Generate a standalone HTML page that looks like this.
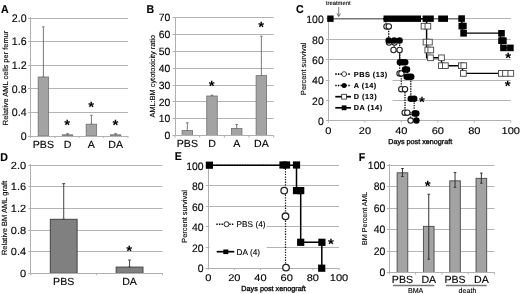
<!DOCTYPE html>
<html><head><meta charset="utf-8"><style>
html,body{margin:0;padding:0;background:#fff;width:520px;height:294px;overflow:hidden;}
svg{display:block;font-family:"Liberation Sans", sans-serif;filter:blur(0.35px);}
text{stroke:#000;stroke-width:0.12px;}
</style></head><body>
<svg xmlns="http://www.w3.org/2000/svg" width="520" height="294" viewBox="0 0 520 294" font-family='"Liberation Sans", sans-serif' text-rendering="geometricPrecision">
<rect width="520" height="294" fill="#fff"/>
<line x1="28.00" y1="112.50" x2="128.00" y2="112.50" stroke="#b4b4b4" stroke-width="1" />
<line x1="28.00" y1="88.50" x2="128.00" y2="88.50" stroke="#b4b4b4" stroke-width="1" />
<line x1="28.00" y1="65.50" x2="128.00" y2="65.50" stroke="#b4b4b4" stroke-width="1" />
<line x1="28.00" y1="41.50" x2="128.00" y2="41.50" stroke="#b4b4b4" stroke-width="1" />
<line x1="28.00" y1="18.50" x2="128.00" y2="18.50" stroke="#b4b4b4" stroke-width="1" />
<text transform="translate(26.70,139.89) scale(0.97,1)" font-size="11.0" text-anchor="end" font-weight="normal" fill="#000" >0</text>
<text transform="translate(26.70,116.29) scale(0.97,1)" font-size="11.0" text-anchor="end" font-weight="normal" fill="#000" >0.4</text>
<text transform="translate(26.70,92.69) scale(0.97,1)" font-size="11.0" text-anchor="end" font-weight="normal" fill="#000" >0.8</text>
<text transform="translate(26.70,69.09) scale(0.97,1)" font-size="11.0" text-anchor="end" font-weight="normal" fill="#000" >1.2</text>
<text transform="translate(26.70,45.49) scale(0.97,1)" font-size="11.0" text-anchor="end" font-weight="normal" fill="#000" >1.6</text>
<text transform="translate(26.70,21.89) scale(0.97,1)" font-size="11.0" text-anchor="end" font-weight="normal" fill="#000" >2.0</text>
<line x1="43.40" y1="26.85" x2="43.40" y2="77.00" stroke="#6a6a6a" stroke-width="0.9" />
<line x1="42.15" y1="26.85" x2="44.65" y2="26.85" stroke="#6a6a6a" stroke-width="0.9" />
<line x1="42.15" y1="77.00" x2="44.65" y2="77.00" stroke="#6a6a6a" stroke-width="0.9" />
<rect x="38.15" y="77.00" width="10.50" height="59.00" fill="#a3a3a3" stroke="#707070" stroke-width="0.8" />
<line x1="67.50" y1="133.64" x2="67.50" y2="134.82" stroke="#6a6a6a" stroke-width="0.9" />
<line x1="66.25" y1="133.64" x2="68.75" y2="133.64" stroke="#6a6a6a" stroke-width="0.9" />
<line x1="66.25" y1="134.82" x2="68.75" y2="134.82" stroke="#6a6a6a" stroke-width="0.9" />
<rect x="62.25" y="134.82" width="10.50" height="1.18" fill="#a3a3a3" stroke="#707070" stroke-width="0.8" />
<line x1="91.40" y1="115.35" x2="91.40" y2="124.20" stroke="#6a6a6a" stroke-width="0.9" />
<line x1="90.15" y1="115.35" x2="92.65" y2="115.35" stroke="#6a6a6a" stroke-width="0.9" />
<line x1="90.15" y1="124.20" x2="92.65" y2="124.20" stroke="#6a6a6a" stroke-width="0.9" />
<rect x="86.15" y="124.20" width="10.50" height="11.80" fill="#a3a3a3" stroke="#707070" stroke-width="0.8" />
<line x1="115.60" y1="133.64" x2="115.60" y2="134.82" stroke="#6a6a6a" stroke-width="0.9" />
<line x1="114.35" y1="133.64" x2="116.85" y2="133.64" stroke="#6a6a6a" stroke-width="0.9" />
<line x1="114.35" y1="134.82" x2="116.85" y2="134.82" stroke="#6a6a6a" stroke-width="0.9" />
<rect x="110.35" y="134.82" width="10.50" height="1.18" fill="#a3a3a3" stroke="#707070" stroke-width="0.8" />
<line x1="30.50" y1="17.00" x2="30.50" y2="136.00" stroke="#b0b0b0" stroke-width="1" />
<line x1="28.00" y1="136.50" x2="128.00" y2="136.50" stroke="#b0b0b0" stroke-width="1" />
<line x1="30.50" y1="136.00" x2="30.50" y2="138.00" stroke="#b0b0b0" stroke-width="1" />
<line x1="54.88" y1="136.00" x2="54.88" y2="138.00" stroke="#b0b0b0" stroke-width="1" />
<line x1="79.25" y1="136.00" x2="79.25" y2="138.00" stroke="#b0b0b0" stroke-width="1" />
<line x1="103.62" y1="136.00" x2="103.62" y2="138.00" stroke="#b0b0b0" stroke-width="1" />
<line x1="128.00" y1="136.00" x2="128.00" y2="138.00" stroke="#b0b0b0" stroke-width="1" />
<text transform="translate(43.40,147.50) scale(1.03,1)" font-size="10.3" text-anchor="middle" font-weight="normal" fill="#000" >PBS</text>
<text transform="translate(67.50,147.50) scale(1.03,1)" font-size="10.3" text-anchor="middle" font-weight="normal" fill="#000" >D</text>
<text transform="translate(91.40,147.50) scale(1.03,1)" font-size="10.3" text-anchor="middle" font-weight="normal" fill="#000" >A</text>
<text transform="translate(115.60,147.50) scale(1.03,1)" font-size="10.3" text-anchor="middle" font-weight="normal" fill="#000" >DA</text>
<text x="67.20" y="129.95" font-size="15" text-anchor="middle" font-weight="bold" fill="#000" style="stroke:none">*</text>
<text x="91.10" y="111.85" font-size="15" text-anchor="middle" font-weight="bold" fill="#000" style="stroke:none">*</text>
<text x="115.30" y="129.95" font-size="15" text-anchor="middle" font-weight="bold" fill="#000" style="stroke:none">*</text>
<text transform="translate(1.00,12.60) scale(0.93,1)" font-size="11.4" text-anchor="start" font-weight="bold" fill="#000" >A</text>
<text x="0" y="0" font-size="7.45" text-anchor="middle" transform="translate(5.60,78.00) rotate(-90)" dominant-baseline="central">Relative AML cells per femur</text>
<line x1="172.50" y1="118.50" x2="273.70" y2="118.50" stroke="#b4b4b4" stroke-width="1" />
<line x1="172.50" y1="101.50" x2="273.70" y2="101.50" stroke="#b4b4b4" stroke-width="1" />
<line x1="172.50" y1="85.50" x2="273.70" y2="85.50" stroke="#b4b4b4" stroke-width="1" />
<line x1="172.50" y1="68.50" x2="273.70" y2="68.50" stroke="#b4b4b4" stroke-width="1" />
<line x1="172.50" y1="51.50" x2="273.70" y2="51.50" stroke="#b4b4b4" stroke-width="1" />
<line x1="172.50" y1="34.50" x2="273.70" y2="34.50" stroke="#b4b4b4" stroke-width="1" />
<line x1="172.50" y1="17.50" x2="273.70" y2="17.50" stroke="#b4b4b4" stroke-width="1" />
<text transform="translate(170.30,139.32) scale(0.99,1)" font-size="10.5" text-anchor="end" font-weight="normal" fill="#000" >0</text>
<text transform="translate(170.30,122.47) scale(0.99,1)" font-size="10.5" text-anchor="end" font-weight="normal" fill="#000" >10</text>
<text transform="translate(170.30,105.62) scale(0.99,1)" font-size="10.5" text-anchor="end" font-weight="normal" fill="#000" >20</text>
<text transform="translate(170.30,88.77) scale(0.99,1)" font-size="10.5" text-anchor="end" font-weight="normal" fill="#000" >30</text>
<text transform="translate(170.30,71.92) scale(0.99,1)" font-size="10.5" text-anchor="end" font-weight="normal" fill="#000" >40</text>
<text transform="translate(170.30,55.07) scale(0.99,1)" font-size="10.5" text-anchor="end" font-weight="normal" fill="#000" >50</text>
<text transform="translate(170.30,38.22) scale(0.99,1)" font-size="10.5" text-anchor="end" font-weight="normal" fill="#000" >60</text>
<text transform="translate(170.30,21.37) scale(0.99,1)" font-size="10.5" text-anchor="end" font-weight="normal" fill="#000" >70</text>
<line x1="187.34" y1="122.79" x2="187.34" y2="130.54" stroke="#6a6a6a" stroke-width="0.9" />
<line x1="186.09" y1="122.79" x2="188.59" y2="122.79" stroke="#6a6a6a" stroke-width="0.9" />
<line x1="186.09" y1="130.54" x2="188.59" y2="130.54" stroke="#6a6a6a" stroke-width="0.9" />
<rect x="182.09" y="130.54" width="10.50" height="5.06" fill="#a3a3a3" stroke="#707070" stroke-width="0.8" />
<line x1="212.01" y1="95.16" x2="212.01" y2="96.00" stroke="#6a6a6a" stroke-width="0.9" />
<line x1="210.76" y1="95.16" x2="213.26" y2="95.16" stroke="#6a6a6a" stroke-width="0.9" />
<line x1="210.76" y1="96.00" x2="213.26" y2="96.00" stroke="#6a6a6a" stroke-width="0.9" />
<rect x="206.76" y="96.00" width="10.50" height="39.60" fill="#a3a3a3" stroke="#707070" stroke-width="0.8" />
<line x1="236.69" y1="124.48" x2="236.69" y2="128.52" stroke="#6a6a6a" stroke-width="0.9" />
<line x1="235.44" y1="124.48" x2="237.94" y2="124.48" stroke="#6a6a6a" stroke-width="0.9" />
<line x1="235.44" y1="128.52" x2="237.94" y2="128.52" stroke="#6a6a6a" stroke-width="0.9" />
<rect x="231.44" y="128.52" width="10.50" height="7.08" fill="#a3a3a3" stroke="#707070" stroke-width="0.8" />
<line x1="261.36" y1="36.18" x2="261.36" y2="75.61" stroke="#6a6a6a" stroke-width="0.9" />
<line x1="260.11" y1="36.18" x2="262.61" y2="36.18" stroke="#6a6a6a" stroke-width="0.9" />
<line x1="260.11" y1="75.61" x2="262.61" y2="75.61" stroke="#6a6a6a" stroke-width="0.9" />
<rect x="256.11" y="75.61" width="10.50" height="59.99" fill="#a3a3a3" stroke="#707070" stroke-width="0.8" />
<line x1="175.50" y1="17.00" x2="175.50" y2="135.60" stroke="#b0b0b0" stroke-width="1" />
<line x1="172.50" y1="135.50" x2="273.70" y2="135.50" stroke="#b0b0b0" stroke-width="1" />
<line x1="175.00" y1="135.60" x2="175.00" y2="137.60" stroke="#b0b0b0" stroke-width="1" />
<line x1="199.68" y1="135.60" x2="199.68" y2="137.60" stroke="#b0b0b0" stroke-width="1" />
<line x1="224.35" y1="135.60" x2="224.35" y2="137.60" stroke="#b0b0b0" stroke-width="1" />
<line x1="249.02" y1="135.60" x2="249.02" y2="137.60" stroke="#b0b0b0" stroke-width="1" />
<line x1="273.70" y1="135.60" x2="273.70" y2="137.60" stroke="#b0b0b0" stroke-width="1" />
<text transform="translate(187.34,146.50) scale(1.03,1)" font-size="10.3" text-anchor="middle" font-weight="normal" fill="#000" >PBS</text>
<text transform="translate(212.01,146.50) scale(1.03,1)" font-size="10.3" text-anchor="middle" font-weight="normal" fill="#000" >D</text>
<text transform="translate(236.69,146.50) scale(1.03,1)" font-size="10.3" text-anchor="middle" font-weight="normal" fill="#000" >A</text>
<text transform="translate(261.36,146.50) scale(1.03,1)" font-size="10.3" text-anchor="middle" font-weight="normal" fill="#000" >DA</text>
<text x="211.71" y="90.55" font-size="15" text-anchor="middle" font-weight="bold" fill="#000" style="stroke:none">*</text>
<text x="261.06" y="32.25" font-size="15" text-anchor="middle" font-weight="bold" fill="#000" style="stroke:none">*</text>
<text transform="translate(146.60,12.90) scale(0.93,1)" font-size="11.4" text-anchor="start" font-weight="bold" fill="#000" >B</text>
<text x="0" y="0" font-size="7.37" text-anchor="middle" transform="translate(152.40,76.20) rotate(-90)" dominant-baseline="central">AML:BM cytotoxicity ratio</text>
<line x1="325.90" y1="100.50" x2="510.80" y2="100.50" stroke="#b4b4b4" stroke-width="1" />
<line x1="325.90" y1="80.50" x2="510.80" y2="80.50" stroke="#b4b4b4" stroke-width="1" />
<line x1="325.90" y1="59.50" x2="510.80" y2="59.50" stroke="#b4b4b4" stroke-width="1" />
<line x1="325.90" y1="39.50" x2="510.80" y2="39.50" stroke="#b4b4b4" stroke-width="1" />
<line x1="325.90" y1="18.50" x2="510.80" y2="18.50" stroke="#b4b4b4" stroke-width="1" />
<text transform="translate(323.80,125.05) scale(0.99,1)" font-size="10.6" text-anchor="end" font-weight="normal" fill="#000" >0</text>
<text transform="translate(323.80,104.70) scale(0.99,1)" font-size="10.6" text-anchor="end" font-weight="normal" fill="#000" >20</text>
<text transform="translate(323.80,84.35) scale(0.99,1)" font-size="10.6" text-anchor="end" font-weight="normal" fill="#000" >40</text>
<text transform="translate(323.80,64.00) scale(0.99,1)" font-size="10.6" text-anchor="end" font-weight="normal" fill="#000" >60</text>
<text transform="translate(323.80,43.65) scale(0.99,1)" font-size="10.6" text-anchor="end" font-weight="normal" fill="#000" >80</text>
<text transform="translate(323.80,23.30) scale(0.99,1)" font-size="10.6" text-anchor="end" font-weight="normal" fill="#000" >100</text>
<line x1="328.50" y1="17.95" x2="328.50" y2="120.70" stroke="#b0b0b0" stroke-width="1" />
<line x1="325.90" y1="120.50" x2="510.80" y2="120.50" stroke="#b0b0b0" stroke-width="1" />
<line x1="328.40" y1="120.70" x2="328.40" y2="122.70" stroke="#b0b0b0" stroke-width="1" />
<text transform="translate(328.40,134.40) scale(1.14,1)" font-size="9.7" text-anchor="middle" font-weight="normal" fill="#000" >0</text>
<line x1="364.88" y1="120.70" x2="364.88" y2="122.70" stroke="#b0b0b0" stroke-width="1" />
<text transform="translate(364.88,134.40) scale(1.14,1)" font-size="9.7" text-anchor="middle" font-weight="normal" fill="#000" >20</text>
<line x1="401.36" y1="120.70" x2="401.36" y2="122.70" stroke="#b0b0b0" stroke-width="1" />
<text transform="translate(401.36,134.40) scale(1.14,1)" font-size="9.7" text-anchor="middle" font-weight="normal" fill="#000" >40</text>
<line x1="437.84" y1="120.70" x2="437.84" y2="122.70" stroke="#b0b0b0" stroke-width="1" />
<text transform="translate(437.84,134.40) scale(1.14,1)" font-size="9.7" text-anchor="middle" font-weight="normal" fill="#000" >60</text>
<line x1="474.32" y1="120.70" x2="474.32" y2="122.70" stroke="#b0b0b0" stroke-width="1" />
<text transform="translate(474.32,134.40) scale(1.14,1)" font-size="9.7" text-anchor="middle" font-weight="normal" fill="#000" >80</text>
<line x1="510.80" y1="120.70" x2="510.80" y2="122.70" stroke="#b0b0b0" stroke-width="1" />
<text transform="translate(510.80,134.40) scale(1.14,1)" font-size="9.7" text-anchor="middle" font-weight="normal" fill="#000" >100</text>
<text x="420.20" y="144.40" font-size="7.2" text-anchor="middle" font-weight="normal" fill="#000" style="stroke-width:0.3px">Days post xenograft</text>
<text transform="translate(295.90,13.40) scale(0.93,1)" font-size="11.4" text-anchor="start" font-weight="bold" fill="#000" >C</text>
<text x="0" y="0" font-size="7.37" text-anchor="middle" transform="translate(303.80,68.75) rotate(-90)" dominant-baseline="central">Percent survival</text>
<text x="338.20" y="5.00" font-size="5.85" text-anchor="middle" font-weight="normal" fill="#000" >treatment</text>
<line x1="338.70" y1="7.00" x2="338.70" y2="16.20" stroke="#444" stroke-width="0.7" />
<path d="M337.0,13.4 L338.7,16.6 L340.4,13.4" fill="none" stroke="#444" stroke-width="0.7"/>
<rect x="329.50" y="63.00" width="63.00" height="51.00" fill="#fff" stroke="none" stroke-width="1" />
<line x1="328.40" y1="18.70" x2="461.60" y2="18.70" stroke="#777" stroke-width="1.4" />
<path d="M461.6,18.7 L462.6,33.1 L500,33.1 L501.5,47.9 L511,47.9" fill="none" stroke="#000" stroke-width="1.4"/>
<path d="M383,18.7 L426.6,18.7 L426.6,57.8 L441.5,57.8 L441.5,65.7 L462.5,65.7 L462.5,73.4 L506,73.4" fill="none" stroke="#000" stroke-width="1.4"/>
<path d="M385.8,18.7 L385.8,26.4 L388.7,26.4 L388.7,42.1 L394.2,42.1 L394.2,50.0 L399.6,50.0 L399.6,73.4 L401.3,73.4 L401.3,89.2 L405.0,89.2 L405.0,112.7 L410.6,112.7 L410.6,120.6" fill="none" stroke="#111" stroke-width="1.3" stroke-dasharray="1.4,1.1"/>
<path d="M388.7,40.4 L399.6,40.4 L399.6,62.3 L405.0,62.3 L405.0,69.6 L407.5,69.6 L407.5,76.8 L410.8,76.8 L410.8,98.7 L414.2,98.7 L414.2,113.4 L416.4,113.4 L416.4,120.6" fill="none" stroke="#111" stroke-width="1.3" stroke-dasharray="1.4,1.1"/>
<line x1="399.60" y1="53.00" x2="399.60" y2="60.00" stroke="#222" stroke-width="1.1" />
<rect x="327.20" y="15.50" width="6.40" height="6.40" fill="#000" stroke="none" stroke-width="1" />
<rect x="383.50" y="15.50" width="37.50" height="6.40" fill="#000" stroke="none" stroke-width="1" />
<rect x="422.60" y="15.50" width="11.20" height="6.40" fill="#000" stroke="none" stroke-width="1" />
<rect x="438.20" y="15.50" width="9.80" height="6.40" fill="#000" stroke="none" stroke-width="1" />
<rect x="458.30" y="15.30" width="6.60" height="6.60" fill="#000" stroke="none" stroke-width="1" />
<rect x="458.50" y="22.80" width="6.60" height="6.60" fill="#000" stroke="none" stroke-width="1" />
<rect x="460.10" y="22.80" width="6.60" height="6.60" fill="#000" stroke="none" stroke-width="1" />
<rect x="460.30" y="30.00" width="6.60" height="6.60" fill="#000" stroke="none" stroke-width="1" />
<rect x="498.20" y="30.00" width="6.60" height="6.60" fill="#000" stroke="none" stroke-width="1" />
<rect x="498.20" y="37.40" width="6.60" height="6.60" fill="#000" stroke="none" stroke-width="1" />
<rect x="500.10" y="37.40" width="6.60" height="6.60" fill="#000" stroke="none" stroke-width="1" />
<rect x="500.20" y="44.60" width="6.60" height="6.60" fill="#000" stroke="none" stroke-width="1" />
<rect x="507.10" y="44.60" width="6.60" height="6.60" fill="#000" stroke="none" stroke-width="1" />
<rect x="421.15" y="23.35" width="5.70" height="5.70" fill="#fff" stroke="#444" stroke-width="0.9" />
<rect x="425.05" y="23.35" width="5.70" height="5.70" fill="#fff" stroke="#444" stroke-width="0.9" />
<rect x="423.15" y="39.25" width="5.70" height="5.70" fill="#fff" stroke="#444" stroke-width="0.9" />
<rect x="426.55" y="39.25" width="5.70" height="5.70" fill="#fff" stroke="#444" stroke-width="0.9" />
<rect x="424.95" y="47.15" width="5.70" height="5.70" fill="#fff" stroke="#444" stroke-width="0.9" />
<rect x="427.95" y="47.15" width="5.70" height="5.70" fill="#fff" stroke="#444" stroke-width="0.9" />
<rect x="427.65" y="54.95" width="5.70" height="5.70" fill="#fff" stroke="#444" stroke-width="0.9" />
<rect x="438.65" y="54.95" width="5.70" height="5.70" fill="#fff" stroke="#444" stroke-width="0.9" />
<rect x="438.45" y="62.85" width="5.70" height="5.70" fill="#fff" stroke="#444" stroke-width="0.9" />
<rect x="442.55" y="62.85" width="5.70" height="5.70" fill="#fff" stroke="#444" stroke-width="0.9" />
<rect x="458.55" y="62.85" width="5.70" height="5.70" fill="#fff" stroke="#444" stroke-width="0.9" />
<rect x="460.95" y="62.85" width="5.70" height="5.70" fill="#fff" stroke="#444" stroke-width="0.9" />
<rect x="460.55" y="70.55" width="5.70" height="5.70" fill="#fff" stroke="#444" stroke-width="0.9" />
<rect x="498.55" y="70.55" width="5.70" height="5.70" fill="#fff" stroke="#444" stroke-width="0.9" />
<rect x="502.65" y="70.55" width="5.70" height="5.70" fill="#fff" stroke="#444" stroke-width="0.9" />
<rect x="507.95" y="70.55" width="5.70" height="5.70" fill="#fff" stroke="#444" stroke-width="0.9" />
<circle cx="386.5" cy="26.4" r="2.7" fill="#fff" stroke="#222" stroke-width="1.1"/>
<circle cx="388.8" cy="26.4" r="2.7" fill="#fff" stroke="#222" stroke-width="1.1"/>
<circle cx="389" cy="42.6" r="2.7" fill="#fff" stroke="#222" stroke-width="1.1"/>
<circle cx="394.5" cy="42.6" r="2.7" fill="#fff" stroke="#222" stroke-width="1.1"/>
<circle cx="393.5" cy="50.0" r="2.7" fill="#fff" stroke="#222" stroke-width="1.1"/>
<circle cx="399.6" cy="50.0" r="2.7" fill="#fff" stroke="#222" stroke-width="1.1"/>
<circle cx="399.6" cy="73.4" r="2.7" fill="#fff" stroke="#222" stroke-width="1.1"/>
<circle cx="401.4" cy="73.4" r="2.7" fill="#fff" stroke="#222" stroke-width="1.1"/>
<circle cx="401.3" cy="89.2" r="2.7" fill="#fff" stroke="#222" stroke-width="1.1"/>
<circle cx="405.0" cy="89.2" r="2.7" fill="#fff" stroke="#222" stroke-width="1.1"/>
<circle cx="404.7" cy="112.7" r="2.7" fill="#fff" stroke="#222" stroke-width="1.1"/>
<circle cx="407.3" cy="112.7" r="2.7" fill="#fff" stroke="#222" stroke-width="1.1"/>
<circle cx="410.6" cy="120.6" r="2.7" fill="#fff" stroke="#222" stroke-width="1.1"/>
<circle cx="388.7" cy="40.6" r="3.25" fill="#000"/>
<circle cx="394.2" cy="40.6" r="3.25" fill="#000"/>
<circle cx="399.6" cy="40.6" r="3.25" fill="#000"/>
<circle cx="399.9" cy="62.3" r="3.25" fill="#000"/>
<circle cx="402.5" cy="62.3" r="3.25" fill="#000"/>
<circle cx="405.2" cy="62.3" r="3.25" fill="#000"/>
<circle cx="405.0" cy="69.6" r="3.25" fill="#000"/>
<circle cx="407.0" cy="69.6" r="3.25" fill="#000"/>
<circle cx="406.7" cy="76.8" r="3.25" fill="#000"/>
<circle cx="409.0" cy="76.8" r="3.25" fill="#000"/>
<circle cx="411.2" cy="76.8" r="3.25" fill="#000"/>
<circle cx="410.8" cy="98.7" r="3.25" fill="#000"/>
<circle cx="414.2" cy="98.7" r="3.25" fill="#000"/>
<circle cx="414.6" cy="113.4" r="3.25" fill="#000"/>
<circle cx="416.3" cy="113.4" r="3.25" fill="#000"/>
<circle cx="416.4" cy="120.6" r="3.25" fill="#000"/>
<text x="421.90" y="106.65" font-size="15" text-anchor="middle" font-weight="bold" fill="#000" style="stroke:none">*</text>
<text x="508.10" y="62.85" font-size="15" text-anchor="middle" font-weight="bold" fill="#000" style="stroke:none">*</text>
<text x="507.70" y="91.25" font-size="15" text-anchor="middle" font-weight="bold" fill="#000" style="stroke:none">*</text>
<line x1="335.30" y1="74.10" x2="351.00" y2="74.10" stroke="#000" stroke-width="1.6" stroke-dasharray="1.4,1.2"/>
<circle cx="344.1" cy="74.1" r="2.4" fill="#fff" stroke="#222" stroke-width="0.8"/>
<text x="353.80" y="76.60" font-size="7.3" text-anchor="start" font-weight="bold" fill="#000" letter-spacing="0.5">PBS (13)</text>
<line x1="335.30" y1="85.50" x2="351.00" y2="85.50" stroke="#000" stroke-width="1.6" stroke-dasharray="1.4,1.2"/>
<circle cx="344.1" cy="85.5" r="2.5" fill="#000"/>
<text x="353.80" y="88.00" font-size="7.3" text-anchor="start" font-weight="bold" fill="#000" letter-spacing="0.5">A (14)</text>
<line x1="335.30" y1="96.70" x2="351.00" y2="96.70" stroke="#000" stroke-width="1.7" />
<rect x="341.70" y="94.30" width="4.80" height="4.80" fill="#fff" stroke="#222" stroke-width="0.8" />
<text x="353.80" y="99.20" font-size="7.3" text-anchor="start" font-weight="bold" fill="#000" letter-spacing="0.5">D (13)</text>
<line x1="335.30" y1="107.80" x2="351.00" y2="107.80" stroke="#000" stroke-width="1.7" />
<rect x="341.70" y="105.40" width="4.80" height="4.80" fill="#000" stroke="none" stroke-width="1" />
<text x="353.80" y="110.30" font-size="7.3" text-anchor="start" font-weight="bold" fill="#000" letter-spacing="0.5">DA (14)</text>
<line x1="28.30" y1="251.50" x2="162.50" y2="251.50" stroke="#b4b4b4" stroke-width="1" />
<line x1="28.30" y1="230.50" x2="162.50" y2="230.50" stroke="#b4b4b4" stroke-width="1" />
<line x1="28.30" y1="208.50" x2="162.50" y2="208.50" stroke="#b4b4b4" stroke-width="1" />
<line x1="28.30" y1="186.50" x2="162.50" y2="186.50" stroke="#b4b4b4" stroke-width="1" />
<line x1="28.30" y1="165.50" x2="162.50" y2="165.50" stroke="#b4b4b4" stroke-width="1" />
<text transform="translate(26.10,276.78) scale(1.06,1)" font-size="10.4" text-anchor="end" font-weight="normal" fill="#000" >0</text>
<text transform="translate(26.10,255.18) scale(1.06,1)" font-size="10.4" text-anchor="end" font-weight="normal" fill="#000" >0.4</text>
<text transform="translate(26.10,233.58) scale(1.06,1)" font-size="10.4" text-anchor="end" font-weight="normal" fill="#000" >0.8</text>
<text transform="translate(26.10,211.98) scale(1.06,1)" font-size="10.4" text-anchor="end" font-weight="normal" fill="#000" >1.2</text>
<text transform="translate(26.10,190.38) scale(1.06,1)" font-size="10.4" text-anchor="end" font-weight="normal" fill="#000" >1.6</text>
<text transform="translate(26.10,168.78) scale(1.06,1)" font-size="10.4" text-anchor="end" font-weight="normal" fill="#000" >2.0</text>
<line x1="63.72" y1="183.66" x2="63.72" y2="219.30" stroke="#444" stroke-width="1" />
<line x1="62.22" y1="183.66" x2="65.22" y2="183.66" stroke="#444" stroke-width="1" />
<line x1="62.22" y1="219.30" x2="65.22" y2="219.30" stroke="#444" stroke-width="1" />
<rect x="50.32" y="219.30" width="26.80" height="54.00" fill="#808080" stroke="#444" stroke-width="1" />
<line x1="129.57" y1="260.07" x2="129.57" y2="267.09" stroke="#444" stroke-width="1" />
<line x1="128.07" y1="260.07" x2="131.07" y2="260.07" stroke="#444" stroke-width="1" />
<line x1="128.07" y1="267.09" x2="131.07" y2="267.09" stroke="#444" stroke-width="1" />
<rect x="116.17" y="267.09" width="26.80" height="6.21" fill="#808080" stroke="#444" stroke-width="1" />
<line x1="30.50" y1="164.00" x2="30.50" y2="273.30" stroke="#b0b0b0" stroke-width="1" />
<line x1="28.30" y1="273.50" x2="162.50" y2="273.50" stroke="#b0b0b0" stroke-width="1" />
<line x1="30.80" y1="273.30" x2="30.80" y2="275.30" stroke="#b0b0b0" stroke-width="1" />
<line x1="96.65" y1="273.30" x2="96.65" y2="275.30" stroke="#b0b0b0" stroke-width="1" />
<line x1="162.50" y1="273.30" x2="162.50" y2="275.30" stroke="#b0b0b0" stroke-width="1" />
<text transform="translate(63.72,284.50) scale(1.03,1)" font-size="10.3" text-anchor="middle" font-weight="normal" fill="#000" >PBS</text>
<text transform="translate(129.57,284.50) scale(1.03,1)" font-size="10.3" text-anchor="middle" font-weight="normal" fill="#000" >DA</text>
<text x="129.27" y="255.75" font-size="15" text-anchor="middle" font-weight="bold" fill="#000" style="stroke:none">*</text>
<text transform="translate(0.30,160.90) scale(0.93,1)" font-size="11.4" text-anchor="start" font-weight="bold" fill="#000" >D</text>
<text x="0" y="0" font-size="7.5" text-anchor="middle" transform="translate(4.80,217.90) rotate(-90)" dominant-baseline="central">Relative BM AML graft</text>
<line x1="205.70" y1="247.50" x2="339.00" y2="247.50" stroke="#b4b4b4" stroke-width="1" />
<line x1="205.70" y1="226.50" x2="339.00" y2="226.50" stroke="#b4b4b4" stroke-width="1" />
<line x1="205.70" y1="206.50" x2="339.00" y2="206.50" stroke="#b4b4b4" stroke-width="1" />
<line x1="205.70" y1="185.50" x2="339.00" y2="185.50" stroke="#b4b4b4" stroke-width="1" />
<line x1="205.70" y1="165.50" x2="339.00" y2="165.50" stroke="#b4b4b4" stroke-width="1" />
<text transform="translate(203.60,272.26) scale(0.96,1)" font-size="10.9" text-anchor="end" font-weight="normal" fill="#000" >0</text>
<text transform="translate(203.60,251.72) scale(0.96,1)" font-size="10.9" text-anchor="end" font-weight="normal" fill="#000" >20</text>
<text transform="translate(203.60,231.18) scale(0.96,1)" font-size="10.9" text-anchor="end" font-weight="normal" fill="#000" >40</text>
<text transform="translate(203.60,210.64) scale(0.96,1)" font-size="10.9" text-anchor="end" font-weight="normal" fill="#000" >60</text>
<text transform="translate(203.60,190.10) scale(0.96,1)" font-size="10.9" text-anchor="end" font-weight="normal" fill="#000" >80</text>
<text transform="translate(203.60,169.56) scale(0.96,1)" font-size="10.9" text-anchor="end" font-weight="normal" fill="#000" >100</text>
<rect x="209.50" y="212.00" width="57.30" height="46.00" fill="#fff" stroke="none" stroke-width="1" />
<line x1="208.50" y1="164.30" x2="208.50" y2="268.00" stroke="#b0b0b0" stroke-width="1" />
<line x1="205.70" y1="268.50" x2="339.00" y2="268.50" stroke="#b0b0b0" stroke-width="1" />
<line x1="208.20" y1="268.00" x2="208.20" y2="270.00" stroke="#b0b0b0" stroke-width="1" />
<text transform="translate(208.20,280.90) scale(1.14,1)" font-size="9.7" text-anchor="middle" font-weight="normal" fill="#000" >0</text>
<line x1="234.36" y1="268.00" x2="234.36" y2="270.00" stroke="#b0b0b0" stroke-width="1" />
<text transform="translate(234.36,280.90) scale(1.14,1)" font-size="9.7" text-anchor="middle" font-weight="normal" fill="#000" >20</text>
<line x1="260.52" y1="268.00" x2="260.52" y2="270.00" stroke="#b0b0b0" stroke-width="1" />
<text transform="translate(260.52,280.90) scale(1.14,1)" font-size="9.7" text-anchor="middle" font-weight="normal" fill="#000" >40</text>
<line x1="286.68" y1="268.00" x2="286.68" y2="270.00" stroke="#b0b0b0" stroke-width="1" />
<text transform="translate(286.68,280.90) scale(1.14,1)" font-size="9.7" text-anchor="middle" font-weight="normal" fill="#000" >60</text>
<line x1="312.84" y1="268.00" x2="312.84" y2="270.00" stroke="#b0b0b0" stroke-width="1" />
<text transform="translate(312.84,280.90) scale(1.14,1)" font-size="9.7" text-anchor="middle" font-weight="normal" fill="#000" >80</text>
<line x1="339.00" y1="268.00" x2="339.00" y2="270.00" stroke="#b0b0b0" stroke-width="1" />
<text transform="translate(339.00,280.90) scale(1.14,1)" font-size="9.7" text-anchor="middle" font-weight="normal" fill="#000" >100</text>
<text x="273.60" y="291.20" font-size="7.25" text-anchor="middle" font-weight="normal" fill="#000" style="stroke-width:0.3px">Days post xenograft</text>
<text transform="translate(174.80,160.00) scale(0.93,1)" font-size="11.4" text-anchor="start" font-weight="bold" fill="#000" >E</text>
<text x="0" y="0" font-size="7.42" text-anchor="middle" transform="translate(184.00,216.45) rotate(-90)" dominant-baseline="central">Percent survival</text>
<path d="M208.2,165.3 L285.5,165.3 L285.5,268" fill="none" stroke="#111" stroke-width="1.2" stroke-dasharray="1.3,1.3"/>
<path d="M208.2,165.3 L296.5,165.3 L296.5,190.6 L300.7,190.6 L300.7,242.3 L321.8,242.3 L321.8,268" fill="none" stroke="#000" stroke-width="1.5"/>
<rect x="205.80" y="161.60" width="7.20" height="7.20" fill="#000" stroke="none" stroke-width="1" />
<rect x="279.40" y="161.40" width="7.20" height="7.20" fill="#000" stroke="none" stroke-width="1" />
<rect x="282.90" y="161.40" width="7.20" height="7.20" fill="#000" stroke="none" stroke-width="1" />
<rect x="292.90" y="161.40" width="7.20" height="7.20" fill="#000" stroke="none" stroke-width="1" />
<rect x="292.90" y="187.00" width="7.20" height="7.20" fill="#000" stroke="none" stroke-width="1" />
<rect x="297.10" y="187.00" width="7.20" height="7.20" fill="#000" stroke="none" stroke-width="1" />
<rect x="297.10" y="238.70" width="7.20" height="7.20" fill="#000" stroke="none" stroke-width="1" />
<rect x="318.30" y="238.70" width="7.20" height="7.20" fill="#000" stroke="none" stroke-width="1" />
<rect x="318.10" y="264.60" width="7.20" height="7.20" fill="#000" stroke="none" stroke-width="1" />
<circle cx="284.2" cy="190.6" r="3.3" fill="#fff" stroke="#222" stroke-width="1.3"/>
<circle cx="285.5" cy="216.3" r="3.3" fill="#fff" stroke="#222" stroke-width="1.3"/>
<circle cx="286" cy="267.6" r="3.3" fill="#fff" stroke="#222" stroke-width="1.3"/>
<text x="331.00" y="248.95" font-size="15" text-anchor="middle" font-weight="bold" fill="#000" style="stroke:none">*</text>
<line x1="216.30" y1="224.20" x2="233.30" y2="224.20" stroke="#000" stroke-width="1.6" stroke-dasharray="1.4,1.2"/>
<circle cx="226.5" cy="224.2" r="2.5" fill="#fff" stroke="#222" stroke-width="1.0"/>
<text x="236.60" y="227.40" font-size="8.25" text-anchor="start" font-weight="normal" fill="#000" >PBS (4)</text>
<line x1="216.70" y1="251.70" x2="234.20" y2="251.70" stroke="#000" stroke-width="1.7" />
<rect x="223.30" y="249.50" width="5.00" height="4.60" fill="#000" stroke="none" stroke-width="1" />
<text x="236.60" y="254.90" font-size="8.25" text-anchor="start" font-weight="normal" fill="#000" >DA (4)</text>
<line x1="386.80" y1="251.50" x2="494.50" y2="251.50" stroke="#b4b4b4" stroke-width="1" />
<line x1="386.80" y1="229.50" x2="494.50" y2="229.50" stroke="#b4b4b4" stroke-width="1" />
<line x1="386.80" y1="208.50" x2="494.50" y2="208.50" stroke="#b4b4b4" stroke-width="1" />
<line x1="386.80" y1="186.50" x2="494.50" y2="186.50" stroke="#b4b4b4" stroke-width="1" />
<line x1="386.80" y1="165.50" x2="494.50" y2="165.50" stroke="#b4b4b4" stroke-width="1" />
<text transform="translate(385.30,275.96) scale(0.96,1)" font-size="10.9" text-anchor="end" font-weight="normal" fill="#000" >0</text>
<text transform="translate(385.30,254.52) scale(0.96,1)" font-size="10.9" text-anchor="end" font-weight="normal" fill="#000" >20</text>
<text transform="translate(385.30,233.08) scale(0.96,1)" font-size="10.9" text-anchor="end" font-weight="normal" fill="#000" >40</text>
<text transform="translate(385.30,211.64) scale(0.96,1)" font-size="10.9" text-anchor="end" font-weight="normal" fill="#000" >60</text>
<text transform="translate(385.30,190.20) scale(0.96,1)" font-size="10.9" text-anchor="end" font-weight="normal" fill="#000" >80</text>
<text transform="translate(385.30,168.76) scale(0.96,1)" font-size="10.9" text-anchor="end" font-weight="normal" fill="#000" >100</text>
<rect x="397.15" y="172.80" width="10.60" height="99.70" fill="#a3a3a3" stroke="#555" stroke-width="1.0" />
<line x1="402.45" y1="168.52" x2="402.45" y2="176.56" stroke="#333" stroke-width="1" />
<line x1="401.15" y1="168.52" x2="403.75" y2="168.52" stroke="#333" stroke-width="1" />
<line x1="401.15" y1="176.56" x2="403.75" y2="176.56" stroke="#333" stroke-width="1" />
<rect x="423.45" y="226.40" width="10.60" height="46.10" fill="#a3a3a3" stroke="#555" stroke-width="1.0" />
<line x1="428.75" y1="194.24" x2="428.75" y2="259.21" stroke="#333" stroke-width="1" />
<line x1="427.45" y1="194.24" x2="430.05" y2="194.24" stroke="#333" stroke-width="1" />
<line x1="427.45" y1="259.21" x2="430.05" y2="259.21" stroke="#333" stroke-width="1" />
<rect x="449.75" y="180.84" width="10.60" height="91.66" fill="#a3a3a3" stroke="#555" stroke-width="1.0" />
<line x1="455.05" y1="172.59" x2="455.05" y2="187.28" stroke="#333" stroke-width="1" />
<line x1="453.75" y1="172.59" x2="456.35" y2="172.59" stroke="#333" stroke-width="1" />
<line x1="453.75" y1="187.28" x2="456.35" y2="187.28" stroke="#333" stroke-width="1" />
<rect x="476.05" y="178.38" width="10.60" height="94.12" fill="#a3a3a3" stroke="#555" stroke-width="1.0" />
<line x1="481.35" y1="173.13" x2="481.35" y2="183.20" stroke="#333" stroke-width="1" />
<line x1="480.05" y1="173.13" x2="482.65" y2="173.13" stroke="#333" stroke-width="1" />
<line x1="480.05" y1="183.20" x2="482.65" y2="183.20" stroke="#333" stroke-width="1" />
<line x1="389.50" y1="164.00" x2="389.50" y2="272.50" stroke="#b0b0b0" stroke-width="1" />
<line x1="386.80" y1="272.50" x2="494.50" y2="272.50" stroke="#b0b0b0" stroke-width="1" />
<line x1="389.30" y1="272.50" x2="389.30" y2="274.50" stroke="#b0b0b0" stroke-width="1" />
<line x1="415.60" y1="272.50" x2="415.60" y2="274.50" stroke="#b0b0b0" stroke-width="1" />
<line x1="441.90" y1="272.50" x2="441.90" y2="274.50" stroke="#b0b0b0" stroke-width="1" />
<line x1="468.20" y1="272.50" x2="468.20" y2="274.50" stroke="#b0b0b0" stroke-width="1" />
<line x1="494.50" y1="272.50" x2="494.50" y2="274.50" stroke="#b0b0b0" stroke-width="1" />
<text transform="translate(402.45,283.30) scale(1.03,1)" font-size="10.3" text-anchor="middle" font-weight="normal" fill="#000" >PBS</text>
<text transform="translate(428.75,283.30) scale(1.03,1)" font-size="10.3" text-anchor="middle" font-weight="normal" fill="#000" >DA</text>
<text transform="translate(455.05,283.30) scale(1.03,1)" font-size="10.3" text-anchor="middle" font-weight="normal" fill="#000" >PBS</text>
<text transform="translate(481.35,283.30) scale(1.03,1)" font-size="10.3" text-anchor="middle" font-weight="normal" fill="#000" >DA</text>
<line x1="393.00" y1="285.50" x2="434.30" y2="285.50" stroke="#777" stroke-width="1.6" />
<line x1="445.90" y1="285.50" x2="486.80" y2="285.50" stroke="#777" stroke-width="1.6" />
<text x="415.60" y="292.60" font-size="7.1" text-anchor="middle" font-weight="normal" fill="#000" >BMA</text>
<text x="467.50" y="292.60" font-size="7.1" text-anchor="middle" font-weight="normal" fill="#000" >death</text>
<text x="427.70" y="190.55" font-size="15" text-anchor="middle" font-weight="bold" fill="#000" style="stroke:none">*</text>
<text transform="translate(358.70,160.90) scale(0.93,1)" font-size="11.4" text-anchor="start" font-weight="bold" fill="#000" >F</text>
<text x="0" y="0" font-size="7.1" text-anchor="middle" transform="translate(364.50,218.30) rotate(-90)" dominant-baseline="central">BM Percent AML</text>
</svg>
</body></html>
